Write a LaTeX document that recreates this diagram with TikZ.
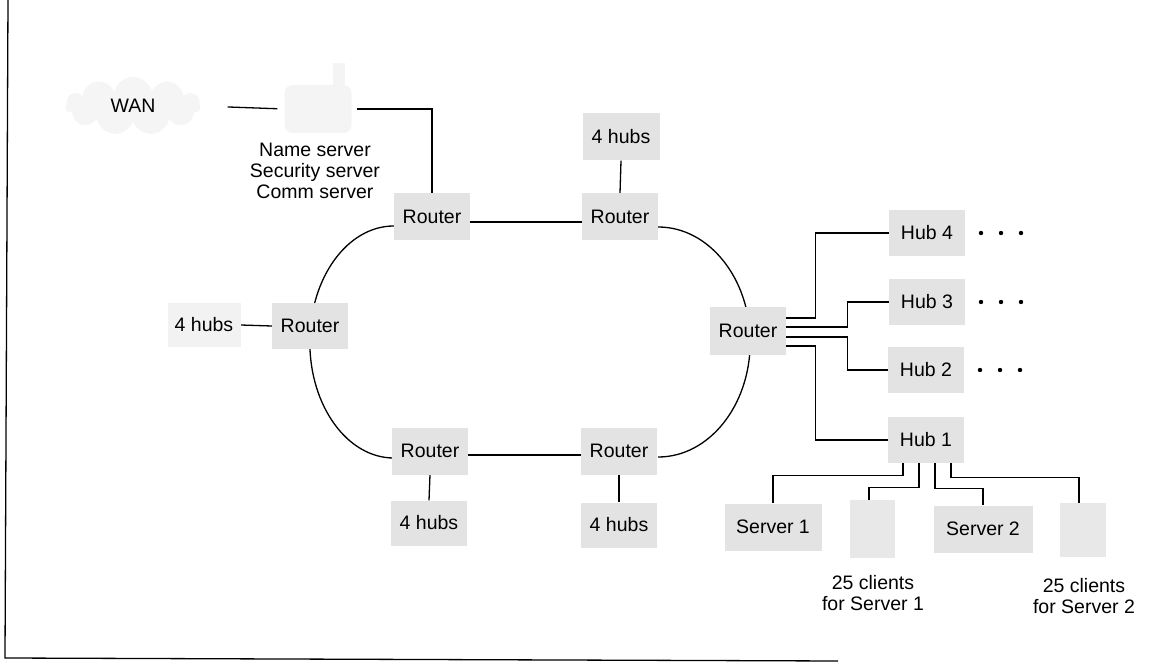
\documentclass[tikz,border=0pt]{standalone}
\usepackage{fontspec}
\setmainfont{Liberation Sans}
\usetikzlibrary{backgrounds,shapes.symbols}
\begin{document}
\begin{tikzpicture}[x=1pt,y=-1pt,
  txt/.style={font=\fontsize{19.5}{21}\selectfont},
  box/.style={txt, fill=gray!22, inner sep=0pt, minimum width=76pt, minimum height=47pt},
  softbox/.style={txt, fill=gray!10, inner sep=0pt},
  lbl/.style={txt, align=center, inner sep=0pt},
  wire/.style={line width=1.3pt},
  frame/.style={line width=1.3pt}]
\useasboundingbox (0,0) rectangle (1168,668);

% frame of the figure
\draw[frame] (8,0) -- (5,658) -- (838,661);

% WAN and name server
\node[softbox, fill=gray!8, cloud, cloud puffs=11, aspect=2.4, minimum width=135pt, minimum height=58pt] (wan) at (133,106) {WAN};
\fill[gray!9] (333,63) rectangle (345,90);
\node[softbox, fill=gray!9, minimum width=67pt, minimum height=48pt, rounded corners=8pt] (ns) at (318,109) {};
\node[lbl] (nslbl) at (315,171) {Name server\\Security server\\Comm server};

% ring routers
\node[box] (r1) at (432,217) {Router};
\node[box] (r2) at (620,217) {Router};
\node[box, minimum width=77pt] (h4t) at (621,137) {4 hubs};
\node[box, minimum height=46pt] (r0) at (310,326) {Router};
\node[softbox, minimum width=73pt, minimum height=44pt] (hl) at (204,325) {4 hubs};
\node[box] (r3) at (430,451) {Router};
\node[box] (r4) at (619,451) {Router};
\node[box, minimum height=45pt] (hb1) at (429,523) {4 hubs};
\node[box, minimum height=45pt] (hb2) at (619,525) {4 hubs};
\node[box, minimum height=48pt] (r5) at (748,331) {Router};

% hubs
\node[box, minimum height=46pt] (hub4) at (927,233) {Hub 4};
\node[box, minimum height=46pt] (hub3) at (927,302) {Hub 3};
\node[box, minimum height=46pt] (hub2) at (926,370) {Hub 2};
\node[box, minimum height=46pt] (hub1) at (926,440) {Hub 1};
\foreach \h in {hub4,hub3,hub2}
  \foreach \dx in {54,74,94}
    \fill ([xshift=\dx pt]\h.center) circle (2.2pt);

% servers and clients
\node[box, minimum width=97pt] (srv1) at (773,527) {Server 1};
\node[softbox, fill=gray!18, minimum width=45pt, minimum height=58pt] (cl1) at (872,529) {};
\node[box, minimum width=99pt] (srv2) at (983,529) {Server 2};
\node[softbox, fill=gray!18, minimum width=46pt, minimum height=54pt] (cl2) at (1083,530) {};
\node[lbl] (lbl1) at (873,593) {25 clients\\for Server 1};
\node[lbl] (lbl2) at (1084,596) {25 clients\\for Server 2};

\begin{pgfonlayer}{background}
  % WAN side
  \draw[wire, shorten <=27pt, shorten >=7pt] (wan.east) -- (ns.west);
  \draw[wire, shorten <=5pt] (ns.east) -| (r1.north);
  % ring
  \draw[wire] ([yshift=-9pt]r1.west) arc[start angle=90, end angle=270, x radius=84pt, y radius=116pt];
  \draw[wire] ([yshift=-10pt]r2.east) arc[start angle=90, end angle=-90, x radius=92pt, y radius=115pt];
  \draw[wire] ([yshift=-5pt]r1.east) -- ([yshift=-5pt]r2.west);
  \draw[wire] ([yshift=-4pt]r3.east) -- ([yshift=-4pt]r4.west);
  \draw[wire] (h4t.south) -- (r2.north);
  \draw[wire] (hl.east) -- (r0.west);
  \draw[wire] (r3.south) -- (hb1.north);
  \draw[wire] (r4.south) -- (hb2.north);
  % right router to hubs
  \draw[wire] ([yshift=13pt]r5.east) -- ++(29,0) |- (hub4.west);
  \draw[wire] ([yshift=4pt]r5.east) -- ++(61,0) |- (hub3.west);
  \draw[wire] ([yshift=-6pt]r5.east) -- ++(61,0) |- (hub2.west);
  \draw[wire] ([yshift=-15pt]r5.east) -- ++(29,0) |- (hub1.west);
  % hub 1 to servers and clients
  \draw[wire] ([xshift=-23pt]hub1.south) -- ++(0,12) -| (srv1.north);
  \draw[wire] ([xshift=-7pt]hub1.south) -- ++(0,24) -| ([xshift=-3pt]cl1.north);
  \draw[wire] ([xshift=9pt]hub1.south) -- ++(0,25) -| (srv2.north);
  \draw[wire] ([xshift=25pt]hub1.south) -- ++(0,14) -| ([xshift=-4pt]cl2.north);
\end{pgfonlayer}
\end{tikzpicture}
\end{document}
